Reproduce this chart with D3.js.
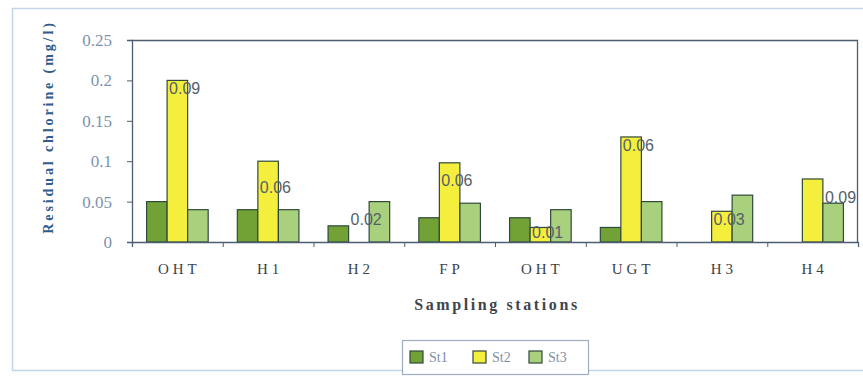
<!DOCTYPE html>
<html>
<head>
<meta charset="utf-8">
<script src="https://cdn.jsdelivr.net/npm/d3@7/dist/d3.min.js"></script>
<style>
  html, body { margin: 0; padding: 0; background: #ffffff; }
  svg { display: block; }
</style>
</head>
<body>
<svg id="chart" width="863" height="378"></svg>
<script>
// Sampling stations along the supply line
const stations = ["OHT", "H1", "H2", "FP", "OHT", "UGT", "H3", "H4"];
const seriesNames = ["St1", "St2", "St3"];

// Residual chlorine (mg/l) per station for each series
const st1 = [0.05, 0.04, 0.02, 0.03, 0.03, 0.018, 0, 0];
const st2 = [0.2, 0.1, 0, 0.098, 0.018, 0.13, 0.038, 0.078];
const st3 = [0.04, 0.04, 0.05, 0.048, 0.04, 0.05, 0.058, 0.048];

// Data label texts, the series each one sits on, and its height in mg/l
const labelTexts = ["0.09", "0.06", "0.02", "0.06", "0.01", "0.06", "0.03", "0.09"];
const labelSeries = [1, 1, 1, 1, 1, 1, 1, 2];
const labelLevels = [0.19, 0.068, 0.028, 0.076, 0.012, 0.12, 0.028, 0.055];

const yTicks = [0, 0.05, 0.1, 0.15, 0.2, 0.25];
const yTickLabels = ["0", "0.05", "0.1", "0.15", "0.2", "0.25"];

const colors = ["#72a236", "#f4ee3c", "#a9d07c"];
const seriesValues = [st1, st2, st3];

const svg = d3.select("#chart");
const margin = { left: 132, top: 40, right: 5, bottom: 136 };
const W = 863, H = 378;
const plotW = W - margin.left - margin.right;
const plotH = H - margin.top - margin.bottom;

// outer chart frame
svg.append("rect")
  .attr("x", 12.5).attr("y", 8.5)
  .attr("width", 900).attr("height", 362)
  .attr("fill", "none")
  .attr("stroke", "#c3d5e8")
  .attr("stroke-width", 1.5);

const g = svg.append("g").attr("transform", `translate(${margin.left},${margin.top})`);

const x0 = d3.scaleBand().domain(d3.range(stations.length)).range([0, plotW]).padding(0);
const x1 = d3.scaleBand().domain(d3.range(seriesNames.length)).range([0, x0.bandwidth()])
  .paddingInner(0).paddingOuter(0.71);
const y = d3.scaleLinear().domain([0, 0.25]).range([plotH, 0]);
const xEdge = d3.scaleLinear().domain([0, stations.length]).range([0, plotW]);

// frame top and right
g.append("path")
  .attr("d", `M0,0.5H${plotW - 0.5}V${plotH}`)
  .attr("fill", "none").attr("stroke", "#4d5e70").attr("stroke-width", 1.3);

// bars
const groups = g.selectAll("g.station").data(stations.map((s, i) => i)).enter()
  .append("g").attr("class", "station")
  .attr("transform", i => `translate(${x0(i)},0)`);

groups.selectAll("rect").data(i => seriesValues.map((vals, k) => ({ k, v: vals[i] })))
  .enter().filter(d => d.v > 0)
  .append("rect")
  .attr("x", d => x1(d.k))
  .attr("y", d => y(d.v))
  .attr("width", x1.bandwidth())
  .attr("height", d => plotH - y(d.v))
  .attr("fill", d => colors[d.k])
  .attr("stroke", "#2f4a3c")
  .attr("stroke-width", 1.2);

// data labels
g.selectAll("text.dlabel").data(labelTexts).enter()
  .append("text").attr("class", "dlabel")
  .attr("x", (t, i) => x0(i) + x1(labelSeries[i]) + 2)
  .attr("y", (t, i) => y(labelLevels[i]))
  .attr("dy", "0.36em")
  .attr("font-family", "Liberation Sans, Arial, sans-serif")
  .attr("font-size", 16)
  .attr("fill", "#56606a")
  .text(t => t);

// y axis
const yAxis = g.append("g").call(
  d3.axisLeft(y).tickValues(yTicks).tickSize(5).tickPadding(15)
    .tickFormat((d, i) => yTickLabels[i]));
yAxis.select(".domain").attr("stroke", "#4d5e70").attr("stroke-width", 1.3);
yAxis.selectAll(".tick line").attr("stroke", "#4d5e70");
yAxis.selectAll(".tick text")
  .attr("font-family", "Liberation Serif, Times New Roman, serif")
  .attr("font-size", 17)
  .attr("fill", "#7d93b0");

// x axis: baseline with ticks between stations
const xAxis = g.append("g").attr("transform", `translate(0,${plotH})`)
  .call(d3.axisBottom(xEdge).tickValues(d3.range(1, stations.length)).tickSize(5).tickFormat(""));
xAxis.select(".domain").attr("stroke", "#4d5e70").attr("stroke-width", 1.3);
xAxis.selectAll(".tick line").attr("stroke", "#4d5e70");

// station names
g.selectAll("text.cat").data(stations).enter()
  .append("text").attr("class", "cat")
  .attr("x", (s, i) => x0(i) + x0.bandwidth() / 2 + 2)
  .attr("y", plotH + 32)
  .attr("text-anchor", "middle")
  .attr("font-family", "Liberation Serif, Times New Roman, serif")
  .attr("font-size", 15)
  .attr("letter-spacing", "4px")
  .attr("fill", "#3c4248")
  .text(s => s);

// axis titles
svg.append("text")
  .attr("x", 497).attr("y", 310)
  .attr("text-anchor", "middle")
  .attr("font-family", "Liberation Serif, Times New Roman, serif")
  .attr("font-weight", "bold")
  .attr("font-size", 16)
  .attr("letter-spacing", "2.6px")
  .attr("fill", "#3f454c")
  .text("Sampling stations");

svg.append("text")
  .attr("transform", "translate(53,127) rotate(-90)")
  .attr("text-anchor", "middle")
  .attr("font-family", "Liberation Serif, Times New Roman, serif")
  .attr("font-weight", "bold")
  .attr("font-size", 14)
  .attr("letter-spacing", "2.9px")
  .attr("fill", "#2f5c8c")
  .text("Residual chlorine (mg/l)");

// legend
const legend = svg.append("g").attr("transform", "translate(402,340)");
legend.append("rect")
  .attr("x", 0.5).attr("y", 0.5).attr("width", 186).attr("height", 34)
  .attr("fill", "#ffffff").attr("stroke", "#9eabc4").attr("stroke-width", 1.2);
const itemX = [8, 71, 127];
seriesNames.forEach((name, k) => {
  const it = legend.append("g").attr("transform", `translate(${itemX[k]},11)`);
  it.append("rect").attr("width", 13).attr("height", 12)
    .attr("fill", colors[k]).attr("stroke", "#2f4a3c").attr("stroke-width", 1.2);
  it.append("text").attr("x", 19).attr("y", 11)
    .attr("font-family", "Liberation Serif, Times New Roman, serif")
    .attr("font-size", 14)
    .attr("fill", "#7f8fa6")
    .text(name);
});
</script>
</body>
</html>
